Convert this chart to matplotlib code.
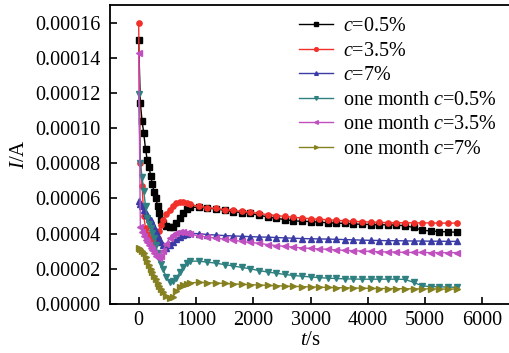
import matplotlib
matplotlib.use('Agg')
import matplotlib.pyplot as plt
from matplotlib.ticker import FormatStrFormatter

plt.rcParams['font.family'] = 'Liberation Serif'
plt.rcParams['mathtext.fontset'] = 'custom'
plt.rcParams['mathtext.rm'] = 'Liberation Serif'
plt.rcParams['mathtext.it'] = 'Liberation Serif:italic'

# tiempo (s)
t = [0, 30, 60, 90, 120, 150, 180, 210, 240, 270, 300, 330, 360, 390, 420,
     480, 540, 600, 660, 720, 780, 840, 900,
     1050, 1200, 1350, 1500, 1650, 1800, 1950, 2100, 2250, 2400, 2550, 2700,
     2850, 3000, 3150, 3300, 3450, 3600, 3750, 3900, 4050, 4200, 4350, 4500,
     4650, 4800, 4950, 5100, 5250, 5400, 5550]

# corriente en microamperios (x1e-6 A)
c05 = [150, 114, 104, 97, 88, 82, 78, 73, 68, 63.5, 60, 56, 52, 48, 46,
       44.5, 43.5, 44, 46, 49, 52, 54, 55,
       55, 54.5, 54, 53.3, 52.5, 52, 51.5, 50.5, 49.5, 48.7, 48, 47.3,
       47, 46.9, 46.5, 46.2, 46, 45.8, 45.5, 45.3, 45.2, 45, 45, 44.8,
       44.5, 43.5, 42, 41.5, 41.2, 41, 40.8]
c35 = [160, 80, 67, 50, 43, 40, 37.5, 36, 35, 34, 34.5, 37.5, 41.5, 45, 47.5,
       51, 53.5, 56, 57.2, 57.8, 58, 57.5, 56.6,
       55.5, 54.8, 54.3, 53.7, 53.2, 52.7, 52.2, 51.5, 50.8, 50.3, 49.8, 49.3,
       48.9, 48.5, 48.2, 47.9, 47.6, 47.3, 47, 46.8, 46.6, 46.4, 46.3, 46.2,
       46.2, 46.1, 46.1, 46.1, 46, 46, 46]
c7 = [58.3, 57, 55.5, 53.5, 52, 50.4, 49, 47.5, 46, 44, 41.5, 38.8, 37, 35, 33.3,
      31.6, 33.8, 35.5, 37, 38.3, 39.2, 39.8, 40.1,
      40, 39.5, 39.2, 38.9, 38.7, 38.5, 38.3, 38.1, 38, 37.8, 37.6, 37.4,
      37.2, 37.1, 37, 36.9, 36.8, 36.6, 36.5, 36.3, 36.2, 36.1, 36, 36,
      35.9, 35.8, 35.8, 35.7, 35.7, 35.6, 35.6]
m05 = [119.5, 80, 72, 64, 55.5, 49, 45.5, 43, 40.5, 37.3, 33.5, 29, 25.5, 23, 20,
       15.5, 12.7, 13.2, 15, 18, 21.2, 23.5, 24.3,
       24.4, 23.8, 23.2, 22.4, 21.6, 20.8, 20, 19, 18.2, 17.5, 16.8, 16.2,
       15.8, 15.4, 15, 14.7, 14.5, 14.3, 14.2, 14.1, 14.1, 14.1, 14.1, 14.1,
       14, 12.3, 10.3, 9.9, 9.8, 9.6, 9.5]
m35 = [142.8, 44, 41, 38.5, 36.5, 35, 33.5, 32, 30.5, 29, 27.5, 26.5, 26, 27.5, 30,
       34, 37.4, 39.5, 40.5, 40.8, 40.8, 40.3, 39.6,
       38.8, 38, 37.4, 36.9, 36.3, 35.6, 35, 34.5, 33.8, 33.2, 32.8, 32.3,
       31.9, 31.6, 31.3, 31.1, 30.8, 30.5, 30.3, 30.1, 29.9, 29.7, 29.6, 29.5,
       29.4, 29.3, 29.3, 29.2, 29.2, 29.2, 29.2]
m7 = [32, 31.3, 30.2, 28.8, 26.8, 24.3, 22, 20, 18.2, 16.2, 14.2, 12.2, 10.5, 8.3, 6.8,
      4.5, 3.3, 4.2, 7.5, 9.5, 10.7, 11.5, 12,
      12.3, 12.1, 11.9, 11.7, 11.4, 11.2, 11, 10.8, 10.6, 10.4, 10.2, 10,
      9.9, 9.7, 9.6, 9.4, 9.3, 9.2, 9.1, 9, 8.9, 8.8, 8.8, 8.7,
      8.7, 8.6, 8.6, 8.6, 8.5, 8.5, 8.5]

series = [
    (c05, '$c$=0.5%', '#000000', 's'),
    (c35, '$c$=3.5%', '#f2302a', 'o'),
    (c7, '$c$=7%', '#3b3ba6', '^'),
    (m05, 'one month $c$=0.5%', '#2f8080', 'v'),
    (m35, 'one month $c$=3.5%', '#c050c0', '<'),
    (m7, 'one month $c$=7%', '#858020', '>'),
]

fig = plt.figure(figsize=(5.09, 3.53), dpi=100)
ax = fig.add_axes([110 / 509, 49 / 353, 401 / 509, 299 / 353])

for vals, lab, col, mk in series:
    ax.plot(t, [v * 1e-6 for v in vals], color=col, marker=mk, markersize=3.8,
            linewidth=1.0, label=lab)

ax.set_xlim(-500, 6500)
ax.set_ylim(0, 0.00017)
ax.set_xticks([0, 1000, 2000, 3000, 4000, 5000, 6000])
ax.set_yticks([0, 0.00002, 0.00004, 0.00006, 0.00008, 0.0001, 0.00012, 0.00014, 0.00016])
ax.yaxis.set_major_formatter(FormatStrFormatter('%.5f'))
ax.tick_params(direction='in', length=5, width=1.2, labelsize=14.5)
ax.tick_params(axis='y', pad=7)
ax.tick_params(axis='x', pad=5)
for s in ax.spines.values():
    s.set_linewidth(1.3)

ax.set_xlabel('$t$/s', fontsize=15, labelpad=1)
ax.set_ylabel('$I$/A', fontsize=15, labelpad=4)

ax.legend(loc='upper right', frameon=False, fontsize=14.5, numpoints=1,
          markerscale=0.7, handlelength=1.7, handletextpad=0.5,
          labelspacing=0.27, borderaxespad=0.2, bbox_to_anchor=(0.995, 1.0))

fig.savefig('out.png', dpi=100)
